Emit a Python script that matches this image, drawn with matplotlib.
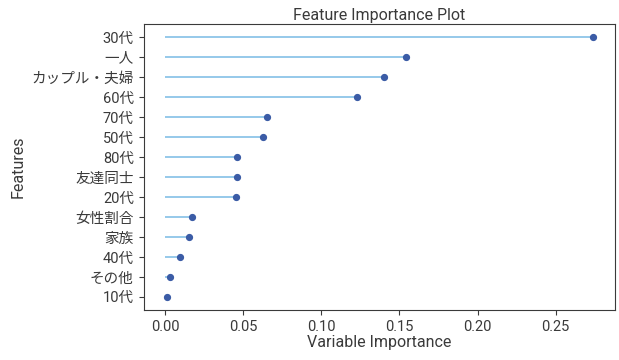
import matplotlib
matplotlib.use("Agg")
import matplotlib.pyplot as plt

plt.rcParams["font.family"] = ["Roboto", "Noto Sans CJK JP", "DejaVu Sans"]

# データ（下から上の順）
features = ["10代", "その他", "40代", "家族", "女性割合", "20代", "友達同士",
            "80代", "50代", "70代", "60代", "カップル・夫婦", "一人", "30代"]
importance = [0.0013, 0.0032, 0.0096, 0.0153, 0.0172, 0.0453, 0.0462,
              0.0462, 0.0626, 0.065, 0.123, 0.140, 0.1545, 0.274]

fig, ax = plt.subplots(figsize=(6.19, 3.6), dpi=100)
ypos = range(len(features))
ax.hlines(y=ypos, xmin=0, xmax=importance, color="#8ec5e8", linewidth=1.3)
ax.plot(importance, ypos, "o", color="#3b5ca6", markersize=4.2)

ax.set_yticks(list(ypos))
ax.set_yticklabels(features)
ax.set_xticks([0.0, 0.05, 0.10, 0.15, 0.20, 0.25])
ax.set_xticklabels(["0.00", "0.05", "0.10", "0.15", "0.20", "0.25"])
ax.tick_params(labelsize=10.5, colors="#3a3a3a")
for s in ax.spines.values():
    s.set_color("#3a3a3a")

ax.set_title("Feature Importance Plot", fontsize=11.5, color="#3a3a3a", pad=3)
ax.set_xlabel("Variable Importance", fontsize=11.5, color="#3a3a3a", labelpad=1)
ax.set_ylabel("Features", fontsize=11.5, color="#3a3a3a")

fig.subplots_adjust(left=0.232, right=0.993, top=0.933, bottom=0.139)
fig.savefig("out.png", dpi=100)
